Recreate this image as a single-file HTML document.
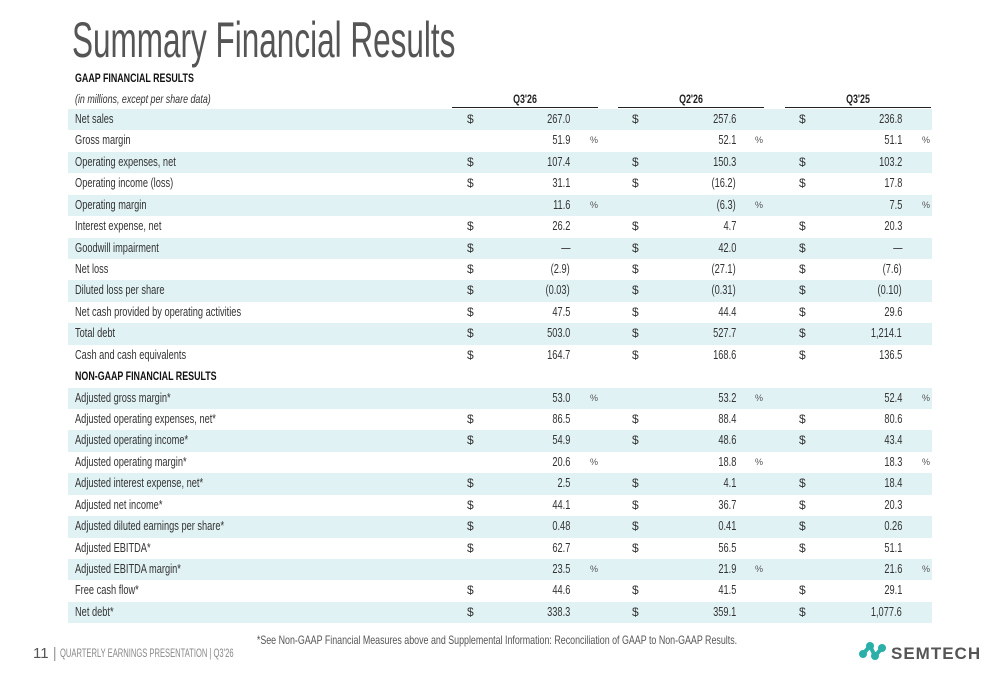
<!DOCTYPE html>
<html><head><meta charset="utf-8">
<style>
html,body{margin:0;padding:0;background:#fff;}
body{width:1000px;height:685px;position:relative;overflow:hidden;font-family:"Liberation Sans",sans-serif;color:#333;}
.abs{position:absolute;white-space:nowrap;}
.sq{transform:scaleX(0.74);transform-origin:left center;}
.sqr{transform:scaleX(0.74);transform-origin:right center;}
.sqc{transform:translateX(-50%) scaleX(0.74);}
.row{position:absolute;left:68px;width:864px;height:21.43px;}
.shade{background:#e1f2f5;}
.cell{position:absolute;font-size:12.5px;line-height:21.43px;top:0;}
</style></head><body>
<div class="abs" style="left:72px;top:10px;font-size:50px;color:#555;font-weight:300;line-height:60px;transform:scaleX(0.63);transform-origin:left center;">Summary Financial Results</div>
<div class="abs sq" style="left:75px;top:71px;font-size:12px;font-weight:bold;color:#111;">GAAP FINANCIAL RESULTS</div>
<div class="abs sq" style="left:75px;top:92px;font-size:12px;font-style:italic;color:#333;">(in millions, except per share data)</div>
<div id="hdr"></div>
<div id="tbl"></div>
<div class="abs sqc" style="left:497px;top:633px;font-size:12px;color:#555;">*See Non-GAAP Financial Measures above and Supplemental Information: Reconciliation of GAAP to Non-GAAP Results.</div>
<div class="abs" style="left:33px;top:645px;font-size:15px;color:#555;">11 <span style="color:#999">|</span></div>
<div class="abs" style="left:60px;top:648px;font-size:11.5px;color:#888;transform:scaleX(0.66);transform-origin:left center;">QUARTERLY EARNINGS PRESENTATION | Q3'26</div>
<div class="abs" style="left:857px;top:638px;">
<svg width="130" height="28" viewBox="0 0 130 28">
<circle cx="6" cy="16" r="4" fill="#2ab0a9"/><circle cx="13" cy="8" r="4" fill="#2ab0a9"/><circle cx="18" cy="18" r="4" fill="#2ab0a9"/><circle cx="25" cy="10" r="4" fill="#2ab0a9"/>
<path d="M6 16 L13 8 L18 18 L25 10" stroke="#2ab0a9" stroke-width="4" fill="none"/>
<text x="34" y="21" font-family="Liberation Sans" font-size="17" font-weight="bold" fill="#555" letter-spacing="1">SEMTECH</text>
</svg></div>
<script>
const labels=["Net sales","Gross margin","Operating expenses, net","Operating income (loss)","Operating margin","Interest expense, net","Goodwill impairment","Net loss","Diluted loss per share","Net cash provided by operating activities","Total debt","Cash and cash equivalents","NON-GAAP FINANCIAL RESULTS","Adjusted gross margin*","Adjusted operating expenses, net*","Adjusted operating income*","Adjusted operating margin*","Adjusted interest expense, net*","Adjusted net income*","Adjusted diluted earnings per share*","Adjusted EBITDA*","Adjusted EBITDA margin*","Free cash flow*","Net debt*"];
const periods=["Q3'26","Q2'26","Q3'25"];
const q326=["267.0","51.9","107.4","31.1","11.6","26.2","—","(2.9)","(0.03)","47.5","503.0","164.7","","53.0","86.5","54.9","20.6","2.5","44.1","0.48","62.7","23.5","44.6","338.3"];
const q226=["257.6","52.1","150.3","(16.2)","(6.3)","4.7","42.0","(27.1)","(0.31)","44.4","527.7","168.6","","53.2","88.4","48.6","18.8","4.1","36.7","0.41","56.5","21.9","41.5","359.1"];
const q325=["236.8","51.1","103.2","17.8","7.5","20.3","—","(7.6)","(0.10)","29.6","1,214.1","136.5","","52.4","80.6","43.4","18.3","18.4","20.3","0.26","51.1","21.6","29.1","1,077.6"];
// row kind: d = dollar, p = percent, h = header
const kinds=["d","p","d","d","p","d","d","d","d","d","d","d","h","p","d","d","p","d","d","d","d","p","d","d"];
const shaded=[1,0,1,0,1,0,1,0,1,0,1,0,0,1,0,1,0,1,0,1,0,1,0,1];
const cols=[{d:467,v:570,p:590,l:452},{d:632,v:736,p:755,l:618},{d:799,v:902,p:922,l:785}];
const series=[q326,q226,q325];
const hdr=document.getElementById('hdr');
periods.forEach((p,i)=>{
  const c=cols[i];
  const t=document.createElement('div');
  t.className='abs sqc';
  t.style.cssText=`left:${c.l+73}px;top:92px;font-size:12px;font-weight:bold;color:#222;`;
  t.textContent=p;
  
  
  hdr.appendChild(t);
  const ln=document.createElement('div');
  ln.className='abs';
  ln.style.cssText=`left:${c.l}px;top:107px;width:146px;height:1px;background:#222;`;
  
  
  hdr.appendChild(ln);
});
const tbl=document.getElementById('tbl');
const top0=109,rh=21.43;
labels.forEach((lab,r)=>{
  const row=document.createElement('div');
  row.className='row'+(shaded[r]?' shade':'');
  row.style.top=(top0+r*rh)+'px';
  
  
  const l=document.createElement('div');
  l.className='cell sq';
  l.style.left='7px';
  if(kinds[r]==='h'){l.style.fontWeight='bold';l.style.color='#111';l.style.fontSize='12px';}
  l.textContent=lab;
  
  
  row.appendChild(l);
  if(kinds[r]!=='h'){
    series.forEach((s,i)=>{
      const c=cols[i];
      if(kinds[r]==='d'){
        const d=document.createElement('div');
        d.className='cell';
        d.style.left=(c.d-68)+'px';
        d.style.fontSize='12px';
        d.textContent='$';
        
        
        row.appendChild(d);
      }
      const v=document.createElement('div');
      v.className='cell sqr';
      v.style.right=(932-c.v)+'px';
      v.textContent=s[r];
      
      
      row.appendChild(v);
      if(kinds[r]==='p'){
        const p=document.createElement('div');
        p.className='cell';
        p.style.left=(c.p-68)+'px';
        p.style.fontSize='9px';
        p.style.color='#555';
        p.textContent='%';
        
        
        row.appendChild(p);
      }
    });
  }
  tbl.appendChild(row);
});
</script>
</body></html>
